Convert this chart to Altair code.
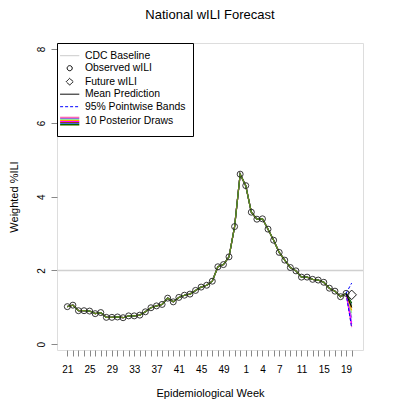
import altair as alt
import pandas as pd

FONT = "Liberation Sans"

# ---- data ----
season_weeks = list(range(21, 53)) + list(range(1, 21))          # 52 x-positions
shown_week_labels = ["21", "25", "29", "33", "37", "41", "45", "49",
                     "1", "4", "7", "11", "15", "19"]
observed_wili = [1.02, 1.06, 0.91, 0.91, 0.90, 0.83, 0.86, 0.73, 0.73, 0.74,
                 0.72, 0.77, 0.77, 0.79, 0.88, 0.99, 1.04, 1.08, 1.25, 1.15,
                 1.27, 1.33, 1.36, 1.46, 1.55, 1.60, 1.71, 2.10, 2.16, 2.37,
                 3.19, 4.61, 4.30, 3.58, 3.39, 3.40, 3.12, 2.82, 2.49, 2.28,
                 2.08, 1.99, 1.82, 1.82, 1.76, 1.74, 1.68, 1.52, 1.44, 1.29,
                 1.38]
future_wili = [1.34]
cdc_baseline = [2.0]
mean_prediction_end = [1.00]
band_upper_end = [1.66]
band_lower_end = [0.44]
draw_ends = [0.47, 0.60, 0.72, 0.85, 0.92, 0.55, 1.00, 1.08, 1.12, 1.04]
draw_colors = ["#FF69B4", "#87CEFA", "#9370DB", "#90EE90", "#FFA500",
               "#FF00FF", "#8B4513", "#4169E1", "#006400", "#6B8E23"]
legend_labels = ["CDC Baseline", "Observed wILI", "Future wILI",
                 "Mean Prediction", "95% Pointwise Bands", "10 Posterior Draws"]

# ---- tables ----
n_obs = len(observed_wili)
last_idx = n_obs - 1
fut_idx = n_obs
obs_df = pd.DataFrame({"idx": list(range(n_obs)), "value": observed_wili})
fut_df = pd.DataFrame({"idx": [fut_idx], "value": future_wili})
base_df = pd.DataFrame({"value": cdc_baseline})
rows = []
for d, end in enumerate(draw_ends):
    for i, v in enumerate(observed_wili):
        rows.append({"draw": f"d{d:02d}", "idx": i, "value": v})
    rows.append({"draw": f"d{d:02d}", "idx": fut_idx, "value": end})
draws_df = pd.DataFrame(rows)
mean_df = pd.DataFrame({"idx": [last_idx, fut_idx],
                        "value": [observed_wili[-1], mean_prediction_end[0]]})
band_df = pd.DataFrame({"band": ["u", "u", "l", "l"],
                        "idx": [last_idx, fut_idx, last_idx, fut_idx],
                        "value": [observed_wili[-1], band_upper_end[0],
                                  observed_wili[-1], band_lower_end[0]]})
legend_df = pd.DataFrame({"series": legend_labels})

label_expr = "[" + ",".join(
    "'" + (str(w) if str(w) in shown_week_labels else "") + "'" for w in season_weeks
) + "][datum.value]"

x_axis = alt.Axis(values=list(range(len(season_weeks))), labelExpr=label_expr,
                  tickSize=6, labelPadding=8, title="Epidemiological Week",
                  titlePadding=13, grid=False, domain=False, labelAngle=0,
                  labelFlush=False, labelOverlap=False, titleFontWeight="normal")
y_axis = alt.Axis(values=[0, 2, 4, 6, 8], labelAngle=270, tickSize=6,
                  labelPadding=5, title="Weighted %ILI", titlePadding=17,
                  grid=False, domain=False, titleFontWeight="normal")
x_scale = alt.Scale(domain=[-1.85, 53.03], nice=False, zero=False)
y_scale = alt.Scale(domain=[-0.155, 8.165], nice=False, zero=False)


def X():
    return alt.X("idx:Q", scale=x_scale, axis=x_axis)


def Y():
    return alt.Y("value:Q", scale=y_scale, axis=y_axis)


baseline = alt.Chart(base_df).mark_rule(color="#d0d0d0", strokeWidth=1.5).encode(y=Y())

draws = alt.Chart(draws_df).mark_line(strokeWidth=1.2).encode(
    x=X(), y=Y(),
    color=alt.Color("draw:N", scale=alt.Scale(domain=[f"d{d:02d}" for d in range(len(draw_ends))],
                                              range=draw_colors), legend=None),
)

bands = alt.Chart(band_df).mark_line(color="#0000FF", strokeWidth=1, strokeDash=[3, 2]).encode(
    x=X(), y=Y(), detail="band:N")

mean_line = alt.Chart(mean_df).mark_line(color="black", strokeWidth=1.0).encode(x=X(), y=Y())

obs_pts = alt.Chart(obs_df).mark_point(shape="circle", size=36, filled=False,
                                       color="#222222", strokeWidth=0.9, opacity=1).encode(x=X(), y=Y())

fut_pt = alt.Chart(fut_df).mark_point(shape="diamond", size=90, filled=False,
                                      color="black", strokeWidth=0.9, opacity=1).encode(x=X(), y=Y())

# legend carrier (zero-size mark; legend symbols styled through scales)
line_path = "M-3.2,0H3.2"
circle_path = "M-0.85,0A0.85,0.85 0 1,0 0.85,0A0.85,0.85 0 1,0 -0.85,0Z"
diamond_path = "M0,-1.15L1.15,0L0,1.15L-1.15,0Z"
stripes_path = "M-3.2,-1.5H3.2V1.5H-3.2Z"
shape_range = [line_path, circle_path, diamond_path, line_path, line_path, stripes_path]
stroke_range = ["#c8c8c8", "black", "black", "black", "#0000FF", "transparent"]
dash_range = [[1, 0], [1, 0], [1, 0], [1, 0], [3, 2], [1, 0]]
width_range = [1, 1, 1, 2, 1, 0]

n = len(draw_colors)
stop_parts = []
for k, c in enumerate(draw_colors):
    stop_parts.append("{offset: %.4f, color: '%s'}" % (k / n, c))
    stop_parts.append("{offset: %.4f, color: '%s'}" % ((k + 1) / n, c))
gradient_expr = "{gradient: 'linear', x1: 0, y1: 0, x2: 0, y2: 1, stops: [" + ", ".join(stop_parts) + "]}"
fill_range = ["transparent"] * 5 + [alt.ExprRef(gradient_expr)]

leg = alt.Legend(
    title=None, orient="top-left", offset=0, padding=7.5, strokeColor="black",
    fillColor="white", cornerRadius=0, labelFont=FONT, labelFontSize=10.4,
    labelColor="black", labelOffset=10, symbolSize=36, rowPadding=1.5,
    labelLimit=300, symbolOpacity=1,
)
legend_layer = alt.Chart(legend_df).mark_point(size=0, filled=False).encode(
    shape=alt.Shape("series:N", scale=alt.Scale(domain=legend_labels, range=shape_range), legend=leg),
    stroke=alt.Stroke("series:N", scale=alt.Scale(domain=legend_labels, range=stroke_range), legend=leg),
    fill=alt.Fill("series:N", scale=alt.Scale(domain=legend_labels, range=fill_range), legend=leg),
    strokeDash=alt.StrokeDash("series:N", scale=alt.Scale(domain=legend_labels, range=dash_range), legend=leg),
    strokeWidth=alt.StrokeWidth("series:N", scale=alt.Scale(domain=legend_labels, range=width_range), legend=leg),
)

chart = alt.layer(baseline, draws, bands, mean_line, obs_pts, fut_pt, legend_layer).properties(
    width=306, height=307,
    title=alt.TitleParams("National wILI Forecast", font=FONT, fontSize=13, fontWeight="normal",
                          color="black", anchor="middle", frame="group", offset=11,
                          baseline="alphabetic"),
    autosize=alt.AutoSizeParams(type="none"),
    padding={"left": 49, "top": 35, "right": 36, "bottom": 49},
).configure_view(stroke="black", strokeWidth=1).configure_axis(
    labelFont=FONT, titleFont=FONT, labelFontSize=10.4, titleFontSize=10.4,
    titleFontWeight="normal", labelColor="black", titleColor="black",
    tickColor="black", tickWidth=1,
).configure(background="white")

chart.save("out.html", embed_options={"renderer": "svg", "actions": False})
